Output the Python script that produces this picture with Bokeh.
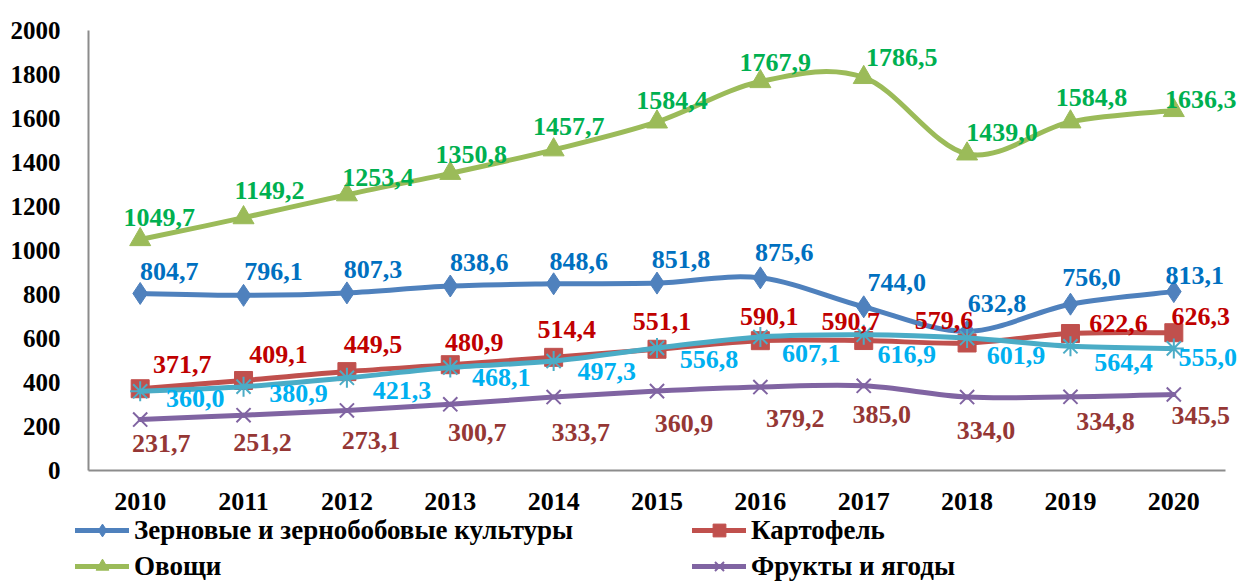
import numpy as np
from bokeh.plotting import figure
from bokeh.models import (ColumnDataSource, LabelSet, Legend, LegendItem,
                          FixedTicker, Range1d)
from bokeh.embed import file_html
from bokeh.resources import INLINE

# ---------------- data ----------------
years = ["2010", "2011", "2012", "2013", "2014", "2015", "2016", "2017", "2018", "2019", "2020"]
grain = [804.7, 796.1, 807.3, 838.6, 848.6, 851.8, 875.6, 744.0, 632.8, 756.0, 813.1]
potato = [371.7, 409.1, 449.5, 480.9, 514.4, 551.1, 590.1, 590.7, 579.6, 622.6, 626.3]
vegetables = [1049.7, 1149.2, 1253.4, 1350.8, 1457.7, 1584.4, 1767.9, 1786.5, 1439.0, 1584.8, 1636.3]
fruits = [231.7, 251.2, 273.1, 300.7, 333.7, 360.9, 379.2, 385.0, 334.0, 334.8, 345.5]
series5 = [360.0, 380.9, 421.3, 468.1, 497.3, 556.8, 607.1, 616.9, 601.9, 564.4, 555.0]
y_ticks = [0, 200, 400, 600, 800, 1000, 1200, 1400, 1600, 1800, 2000]
Y_MAX = 2000

names = ["Зерновые и зернобобовые культуры", "Картофель", "Овощи", "Фрукты и ягоды", ""]

# ---------------- styling / label placement ----------------
FONT = "Liberation Serif"
line_colors = ["#4F81BD", "#C0504D", "#9BBB59", "#8064A2", "#4BACC6"]
label_colors = ["#0070C0", "#C00000", "#00B050", "#953735", "#00B0F0"]
markers = ["diamond", "square", "triangle", "x", "asterisk"]
marker_sizes = [22, 18, 21, 20, 20]

# per-point label offsets in screen pixels (dx right, dy down)
lab_dx = [
    [29, 30, 26, 29, 25, 24, 24, 33, 30, 21, 21],
    [42, 35, 26, 24, 13, 5, 9, -13, -23, 48, 27],
    [19, 26, 31, 21, 15, 15, 15, 38, 35, 21, 27],
    [21, 19, 24, 27, 27, 27, 35, 18, 19, 35, 27],
    [55, 55, 55, 51, 53, 52, 51, 43, 49, 53, 34],
]
lab_dy = [
    [-22, -24, -23, -24, -22, -24, -25, -24, -28, -27, -16],
    [-24, -26, -27, -22, -28, -28, -24, -19, -22, -10, -16],
    [-22, -27, -17, -19, -23, -21, -19, -20, -21, -24, -11],
    [24, 27, 30, 28, 35, 32, 31, 29, 33, 25, 21],
    [7, 7, 13, 10, 10, 11, 17, 20, 17, 16, 9],
]

all_series = [grain, potato, vegetables, fruits, series5]
xs = list(range(len(years)))
n = len(years)

# ---------------- layout (pixels) ----------------
W, H = 1242, 583
AX_L, AX_R = 88, 1225      # category axis extent
AX_T, AX_B = 30, 470       # value axis extent (2000 .. 0)
ux = (AX_R - AX_L) / n     # px per category
uy = (AX_B - AX_T) / Y_MAX # px per value unit
x_range = Range1d(-0.5 - AX_L / ux, -0.5 + (W - AX_L) / ux)
y_range = Range1d(-(H - AX_B) / uy, Y_MAX + AX_T / uy)

p = figure(width=W, height=H, output_backend="svg", toolbar_location=None,
           x_range=x_range, y_range=y_range,
           min_border=0, min_border_left=0, min_border_right=0,
           min_border_top=0, min_border_bottom=0)
p.outline_line_color = None
p.xgrid.grid_line_color = None
p.ygrid.grid_line_color = None
p.background_fill_color = "white"

# axes drawn at fixed positions inside the frame
p.xaxis.fixed_location = 0
p.yaxis.fixed_location = -0.5
p.xaxis.bounds = (-0.5, n - 0.5)
p.yaxis.bounds = (0, Y_MAX)
p.yaxis.ticker = FixedTicker(ticks=y_ticks)
p.xaxis.ticker = FixedTicker(ticks=xs)
p.xaxis.major_label_overrides = {i: y for i, y in enumerate(years)}
for ax in (p.xaxis, p.yaxis):
    ax.axis_line_color = "#8C8C8C"
    ax.axis_line_width = 2
    ax.major_tick_line_color = None
    ax.minor_tick_line_color = None
    ax.major_label_text_font = FONT
    ax.major_label_text_font_style = "bold"
    ax.major_label_text_color = "black"
p.yaxis.major_label_text_font_size = "25px"
p.xaxis.major_label_text_font_size = "26px"
p.yaxis.major_label_standoff = 22
p.xaxis.major_label_standoff = 16


def smooth_segments(yv):
    """Bezier control points for an Excel-like smoothed line."""
    m = len(yv)
    x = np.array(xs, dtype=float)
    y = np.array(yv, dtype=float)
    out = {k: [] for k in ("x0", "y0", "x1", "y1", "cx0", "cy0", "cx1", "cy1")}
    for i in range(m - 1):
        ip = max(i - 1, 0)
        inn = min(i + 2, m - 1)
        out["x0"].append(x[i]); out["y0"].append(y[i])
        out["x1"].append(x[i + 1]); out["y1"].append(y[i + 1])
        out["cx0"].append(x[i] + (x[i + 1] - x[ip]) / 6.0)
        out["cy0"].append(y[i] + (y[i + 1] - y[ip]) / 6.0)
        out["cx1"].append(x[i + 1] - (x[inn] - x[i]) / 6.0)
        out["cy1"].append(y[i + 1] - (y[inn] - y[i]) / 6.0)
    return out


legend_items = {}
for k, vals in enumerate(all_series):
    col = line_colors[k]
    segs = ColumnDataSource(smooth_segments(vals))
    br = p.bezier(x0="x0", y0="y0", x1="x1", y1="y1", cx0="cx0", cy0="cy0", cx1="cx1", cy1="cy1",
                  source=segs, line_color=col, line_width=5, line_cap="round")
    src = ColumnDataSource(dict(x=xs, y=vals))
    if markers[k] in ("x", "asterisk"):
        sr = p.scatter("x", "y", source=src, marker=markers[k], size=marker_sizes[k],
                       line_color=col, line_width=2)
    else:
        sr = p.scatter("x", "y", source=src, marker=markers[k], size=marker_sizes[k],
                       fill_color=col, line_color=col)
    if names[k]:
        legend_items[k] = LegendItem(label=names[k], renderers=[br, sr], index=0)

# data labels
for k, vals in enumerate(all_series):
    lsrc = ColumnDataSource(dict(
        x=xs, y=vals,
        t=[f"{v:.1f}".replace(".", ",") for v in vals],
        dx=lab_dx[k], dy=[-d for d in lab_dy[k]],
    ))
    p.add_layout(LabelSet(x="x", y="y", text="t", source=lsrc, x_offset="dx", y_offset="dy",
                          text_align="center", text_baseline="middle",
                          text_font=FONT, text_font_style="bold", text_font_size="26px",
                          text_color=label_colors[k]))

ITEM_H, ITEM_GAP = 32, 4


def add_legend(items, left_px, top_px):
    lg = Legend(items=items, orientation="vertical",
                border_line_color=None, background_fill_alpha=0,
                padding=0, margin=0, spacing=ITEM_GAP,
                glyph_width=54, glyph_height=ITEM_H, label_height=ITEM_H,
                label_standoff=5, label_text_font=FONT, label_text_font_style="bold",
                label_text_font_size="27px", label_text_color="black",
                inactive_fill_alpha=0)
    height = 2 * ITEM_H + ITEM_GAP
    lg.location = (left_px, H - top_px - height)
    p.add_layout(lg, "center")


add_legend([legend_items[0], legend_items[2]], 75, 514)
add_legend([legend_items[1], legend_items[3]], 692, 514)

open("out.html", "w").write(file_html(p, INLINE))
